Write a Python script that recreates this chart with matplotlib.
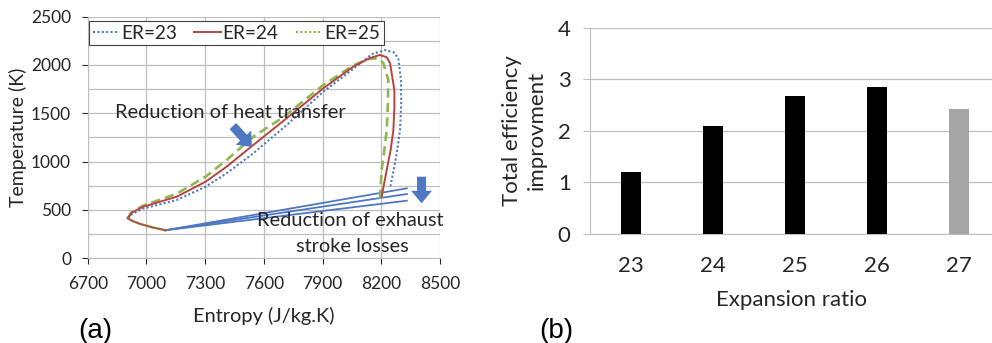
import matplotlib.pyplot as plt
from matplotlib.lines import Line2D

plt.rcParams['font.family'] = ['Lato', 'DejaVu Sans']

# (a) T-s diagram
s_comp = [7097, 7030, 6967, 6925, 6905]
T_comp = [290, 320, 356, 389, 415]

s_er23 = [6905, 6925, 6984, 7155, 7303, 7410, 7546, 7717, 7904, 8057, 8150, 8219, 8265,
          8287, 8301, 8302, 8296, 8284, 8270, 8245]
T_er23 = [415, 455, 515, 603, 741, 880, 1086, 1379, 1724, 1960, 2110, 2155, 2130,
          2069, 1845, 1600, 1328, 1150, 983, 724]

s_er24 = [6905, 6925, 6984, 7155, 7303, 7410, 7546, 7717, 7904, 8057, 8140, 8193, 8228,
          8245, 8267, 8267, 8262, 8248, 8228, 8202]
T_er24 = [415, 472, 534, 637, 793, 948, 1172, 1449, 1759, 1983, 2070, 2104, 2080,
          2018, 1741, 1550, 1328, 1120, 914, 637]

s_er25 = [6905, 6925, 6984, 7155, 7303, 7410, 7546, 7700, 7904, 8057, 8130, 8168, 8195,
          8211, 8236, 8234, 8228, 8216, 8202, 8193]
T_er25 = [415, 480, 545, 668, 845, 1017, 1258, 1460, 1793, 1995, 2060, 2069, 2055,
          2018, 1845, 1600, 1328, 1120, 914, 600]

# exhaust lines
s_exh = [[8331, 7097], [8331, 7097], [8331, 7097]]
T_exh = [[724, 290], [665, 290], [596, 290]]

# (b) bars
ratios = ['23', '24', '25', '26', '27']
improvement = [1.2, 2.1, 2.67, 2.85, 2.42]
bar_colors = ['black', 'black', 'black', 'black', '#a6a6a6']

c_blue = '#4f78c2'
c_red = '#b8443f'
c_green = '#8fb650'
c_grid = '#bfbfbf'
c_text = '#262626'

fig = plt.figure(figsize=(9.92, 3.43), dpi=100)

#Panel (a)
ax1 = fig.add_axes([0.0884, 0.247, 0.3551, 0.7044])
for xs, ys in zip(s_exh, T_exh):
    ax1.plot(xs, ys, color=c_blue, lw=1.3, zorder=3)
ax1.plot(s_er23, T_er23, color=c_blue, lw=1.5, ls=(0, (1, 1.1)), zorder=4)
ax1.plot(s_er24, T_er24, color=c_red, lw=1.4, zorder=5)
ax1.plot(s_er25, T_er25, color=c_green, lw=1.9, ls=(0, (3.5, 2)), zorder=4)
ax1.plot(s_comp, T_comp, color='#a0603a', lw=1.6, zorder=5)

ax1.set_xlim(6700, 8500)
ax1.set_ylim(0, 2500)
ax1.set_xticks(range(6700, 8501, 300))
ax1.set_yticks(range(0, 2501, 500))
ax1.set_yticks(range(0, 2501, 250), minor=True)
ax1.grid(True, which='both', color=c_grid, lw=0.9, zorder=0)
ax1.tick_params(which='minor', length=0)
ax1.tick_params(which='major', length=4, color=c_grid)
ax1.tick_params(axis='y', labelsize=12.5, colors=c_text, pad=8)
ax1.tick_params(axis='x', labelsize=12.5, colors=c_text, pad=9)
for sp in ax1.spines.values():
    sp.set_visible(False)
ax1.spines['left'].set_visible(True)
ax1.spines['left'].set_color(c_grid)
ax1.spines['bottom'].set_visible(True)
ax1.spines['bottom'].set_color(c_grid)
ax1.set_xlabel('Entropy (J/kg.K)', fontsize=14.4, color=c_text, va='center')
ax1.set_ylabel('Temperature (K)', fontsize=14, color=c_text, va='center')
ax1.xaxis.set_label_coords(0.5, -0.239)
ax1.yaxis.set_label_coords(-0.198, 0.5)

handles = [Line2D([], [], color=c_blue, lw=1.5, ls=(0, (1, 1.1))),
           Line2D([], [], color=c_red, lw=1.4),
           Line2D([], [], color=c_green, lw=1.5, ls=(0, (1, 1.1)))]
leg = ax1.legend(handles, ['ER=23', 'ER=24', 'ER=25'], ncol=3, loc='upper left',
                 bbox_to_anchor=(0.003, 0.983), fontsize=13.7, frameon=True, fancybox=False,
                 borderpad=0.2, handlelength=1.4, handletextpad=0.1, columnspacing=0.9,
                 borderaxespad=0.0)
leg.get_frame().set_edgecolor('#404040')
leg.get_frame().set_linewidth(0.8)
leg.get_frame().set_alpha(1)
for t in leg.get_texts():
    t.set_color(c_text)

ax1.text(6839, 1504, 'Reduction of heat transfer', fontsize=14.4, color=c_text,
         va='center', ha='left', zorder=6)
ax1.text(7566, 396, 'Reduction of exhaust', fontsize=14.4, color=c_text,
         va='center', ha='left', zorder=6, clip_on=False)
ax1.text(8051, 117, 'stroke losses', fontsize=14.4, color=c_text,
         va='center', ha='center', zorder=6)

#Block arrows
arrow_style = dict(arrowstyle='simple,head_width=1.5,head_length=0.9,tail_width=0.65',
                   mutation_scale=10, color=c_blue, lw=0, shrinkA=0, shrinkB=0)
ax1.annotate('', xy=(7539, 1152), xytext=(7442, 1368), arrowprops=arrow_style, zorder=6)
ax1.annotate('', xy=(8406, 569), xytext=(8406, 844), arrowprops=arrow_style, zorder=6,
             annotation_clip=False)

fig.text(0.079, 0.073, '(a)', fontsize=20, family='Liberation Sans', color='black', va='top')

#Panel (b)
ax2 = fig.add_axes([0.5948, 0.3178, 0.4052, 0.6015])
ax2.bar(range(len(ratios)), improvement, width=0.25, color=bar_colors, zorder=3)
ax2.set_xlim(-0.5, 4.4)
ax2.set_ylim(0, 4)
ax2.set_xticks(range(len(ratios)))
ax2.set_xticklabels(ratios)
ax2.set_yticks(range(0, 5))
ax2.grid(True, axis='y', color=c_grid, lw=0.9, zorder=0)
for sp in ax2.spines.values():
    sp.set_visible(False)
ax2.spines['left'].set_visible(True)
ax2.spines['left'].set_color(c_grid)
ax2.spines['bottom'].set_visible(True)
ax2.spines['bottom'].set_color(c_grid)
ax2.tick_params(axis='x', length=0, pad=16, labelsize=16, colors=c_text)
ax2.tick_params(axis='y', length=5, color=c_grid, pad=9, labelsize=16, colors=c_text)
ax2.set_xlabel('Expansion ratio', fontsize=16, color=c_text, va='center')
ax2.set_ylabel('Total efficiency\nimprovment', fontsize=16, color=c_text, va='center',
               linespacing=1.3)
ax2.xaxis.set_label_coords(0.5, -0.32)
ax2.yaxis.set_label_coords(-0.164, 0.5)

fig.text(0.544, 0.073, '(b)', fontsize=20, family='Liberation Sans', color='black', va='top')

plt.savefig('out.png', dpi=100)
plt.close()
